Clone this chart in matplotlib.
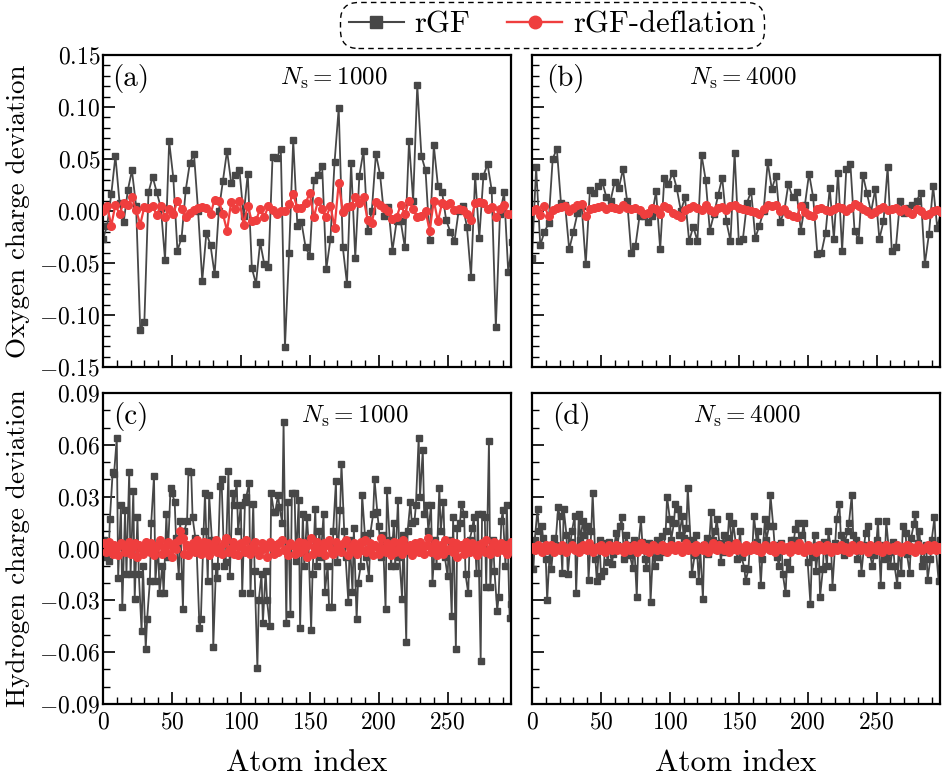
import numpy as np
import matplotlib
matplotlib.use("Agg")
import matplotlib.pyplot as plt
from matplotlib.ticker import MultipleLocator, FuncFormatter
from matplotlib.lines import Line2D

plt.rcParams["font.family"] = "serif"
plt.rcParams["font.serif"] = ["cmr10", "DejaVu Serif"]
plt.rcParams["mathtext.fontset"] = "cm"
plt.rcParams["axes.formatter.use_mathtext"] = True

# ---------------- data (values in units of 1e-3) ----------------
n_atoms = 300
oxygen_index = np.arange(0, n_atoms, 3)
hydrogen_index = np.array([i for i in range(n_atoms) if i % 3 != 0])

# (a) oxygen, Ns = 1000
o_rgf_1000 = [-27, -14, 16, 53, 8, -11, 20, 39, 5, -114, -107, 18, 33, 18, 3, -47, 67, 32, -38, -26,
              20, 46, 55, 0, -67, -21, -33, -61, 0, 29, 58, 27, 35, 39, -5, 36, -55, -70, -30, -51,
              -54, 52, 51, 60, -131, -40, 68, -14,
              -11, -35, -43, 30, 35, 43, -56, -27, 47, 99, -35, -70, 46, -45, 34, 58, -19, 0, 55, 35,
              -5, 4, -38, -10, -10, -35, 67, 10, 121, 53, 39, -28, 63, 24, 18, -9, -20, -29, 0, 5,
              -15, -63, 34, -26, 34, 45, 20, -112, -3, 18, -59, -30]
o_defl_1000 = [0, 5, -14, 6, -3, 8, 6, 13, 1, -13, 4, 3, 5, -4, 5, -6, 2, -3, 10, 2,
               -6, -2, 1, 3, 4, 3, -3, 11, 10, -3, -19, 9, 2, 10, -13, 5, -10, -9, 2, -6,
               5, 1, -3, 0, 0, 7, 16, 3,
               3, 8, 17, -6, 10, 2, -6, 5, -16, 27, -1, 4, 5, 13, 8, 13, -9, -12, 9, 6,
               3, 0, -8, -6, 6, -3, 10, 2, -6, -5, 0, -19, 10, -10, 8, 6, 8, 1, 2, 1,
               -3, -9, 8, 9, 8, 2, 4, -6, 2, 6, -3, -3]

# (b) oxygen, Ns = 4000
o_rgf_4000 = [-45, 42, -33, -20, -12, 50, 60, 8, 6, -37, -20, -2, 5, -51, 20, 17, 24, 28, 13, 10,
              28, 22, 40, 10, -40, -34, -5, -5, -11, -5, 19, -37, 32, 26, 37, 22, 0, 13, -29, -15,
              -29, 54, 30, -19, -3, 15, 32, -10, -29,
              56, -29, -27, 8, 19, -26, -14, 0, 47, 21, 34, -11, 0, 26, 13, 18, -19, 6, 36, 13,
              -41, -40, -21, 22, -27, 37, -38, 40, 45, -19, -28, 35, 17, -1, 21, -27, -10, 42, -38, -35,
              10, -2, 3, 6, 10, 17, -51, -22, 24, -16, 0]
o_defl_4000 = [0, 2, -4, 5, -5, 1, 3, 4, 5, 0, 3, 6, 7, -5, 2, 3, 4, 5, 2, 4,
               3, 2, 6, 3, 2, 3, 1, -3, -2, 3, 2, -3, 5, 3, -2, -4, -6, 1, 3, 5,
               3, 1, 6, 1, -1, 3, 4, 1, 5, 6,
               3, 2, 1, 0, -1, -3, 2, 6, 5, 6, 0, 2, -3, -5, -6, 5, -1, -4, -5, 2,
               3, 1, 0, 2, 4, 3, 0, 3, 7, 5, 2, 0, -3, -1, 2, 4, 1, 2, 3, 0,
               2, -1, -3, 2, 0, -4, -3, 0, 1, -1]

# (c) hydrogen, Ns = 1000
h_rgf_1000 = [5, -5, -7, 17, 44, 43, 64, -17, 25, -34, 22, -15, 44, -15, 33, -29, 18, -15, -48, -10,
              -58, -41, -19, 15, 42, -19, 2, -26, -10, -26, 20, -5, 35, 32, 27, 6, -16, 16, -35, 10,
              16, 45, 44, 18, 6, -2, -46, -41, 10, 32, -19, 31, 5, -57, -10, -17, 36, 40, -10, -8,
              45, -16, 32, 25, 38, 10, 25, -26, 27, 30, 38, -26, 26, -13, -69, -30, -15, -43, -13, -30,
              -45, 32, 21, 21, 31, 24, 15, 73, -43, 27, -38, 32, 32, -7, 28, -46, 20, -10, 18, 5,
              -47, -15, 23, -10, 10, -5, 20, -25, -10, -34, -34, 10, 39, -8, 22, 49, 10, -5, -31, 5,
              -25, 12, -41, -20, -10, 31, 8, -5, -17, 9, 20, 40, 21, 13, -5, 8, -35, 34, 5, -10,
              15, -10, 28, -5, -29, 8, -54, 10, 27, 15, 16, 25, 64, 30, 57, 20, 25, 10, 25, -20,
              5, -10, 35, 10, 27, -5, -16, 5, -39, 18, -58, 12, 15, 26, 20, -15, -26, 5, 12, 18,
              -14, 20, -65, 20, 18, -22, 62, -22, 5, -13, -36, -28, 16, 22, -10, 25, -40, -32, 0, 5]
h_defl_1000 = [3, -2, 4, 0, -3, 2, 1, -4, 3, 2, -2, 0, 4, -3, 1, 3, -5, 2, 0, -3,
               4, 1, -2, 3, -4, 0, 2, 5, -3, 1, -2, 4, 2, -5, 3, 0, 5, 10, 6, -3,
               2, -4, 0, 3, -2, 5, 1, -3, 4, -1, 3, -4, 2, 0, 5, -2, 1, -3, 3, 6,
               -2, 0, 4, -3, 2, -4, 3, 1, -2, 5, 0, -3, 2, 4, -1, -4, 3, 0, 2, -5,
               4, 1, -3, 2, -2, 3, 5, -1, 0, -4, 3, 2, -3, 1, 4, -2, 0, 3, -5, 2,
               6, -3, 1, 4, -2, 0, 3, -4, 2, 5, -1, -3, 4, 0, 2, -2, 3, 5, -4, 1,
               0, 3, -3, 2, 4, -1, 5, -2, 0, 3, -4, 2, 1, -3, 6, 0, -2, 3, 1, -4,
               4, -2, 0, 3, -3, 5, 1, -1, 2, -4, 3, 0, -2, 4, 1, -3, 2, 6, -2, 0,
               3, -4, 1, 2, -3, 5, -1, 0, 4, -2, 3, -5, 1, 2, -3, 4, 0, -2, 3, 1,
               -4, 2, 0, 3, -2, 5, -1, -3, 2, 4, -2, 0, 3, -1, 2, -3, 1, 4, 0, -2]

# (d) hydrogen, Ns = 4000
h_rgf_4000 = [-12, 5, 23, 10, 13, 6, -6, -30, 0, -12, 6, 2, 24, 19, -14, 23, 8, -15, 4, 10,
              19, -26, 20, 5, 16, 8, 13, -18, 10, 32, -6, -19, 5, -16, -13, 3, -8, 4, -9, -3,
              9, 2, 13, 18, -6, 8, 2, -4, -11, 5, -28, 0, 17, 4, -6, -11, 3, -31, 2, -10,
              5, -5, 7, -2, 10, 30, 17, 5, 15, 26, 23, 8, 19, 6, 12, 35, 5, -15, -4, 8,
              -19, 0, -29, 2, 6, -3, 21, 5, 10, 17, 3, -8, 8, -2, 6, 19, 3, 15, 2, -6,
              10, -5, -11, -19, -12, 1, 1, 19, 4, 10, -21, -6, 17, 5, 13, 31, 13, 2, -5, -10,
              3, -15, -26, -8, -12, 5, 5, 11, 15, 2, 8, 15, -1, -8, -32, -5, 8, -13, 2, -28,
              -12, 4, -10, 10, 0, -22, 3, 17, 26, 8, -4, 4, 10, 15, 31, 8, 5, -6, 0, -14,
              2, 9, 13, -3, -10, -4, 5, 16, -21, 2, -6, 16, -2, -10, 4, -10, -21, 0, -14, 13,
              9, -3, -14, 6, 14, 20, 3, 10, -10, -6, 2, -18, -6, 5, 18, 0, -19, 5, -8, 3]
h_defl_4000 = [1, -1, 2, 0, -2, 1, 2, -1, 0, 2, -2, 1, 0, -1, 2, 1, -2, 0, 1, 2,
               -1, 0, -2, 1, 2, 0, -1, 3, 1, -2, 0, 1, -1, 2, 0, -2, 1, 2, -1, 0,
               2, -1, 1, 0, -2, 2, 1, -1, 0, 2, -2, 1, 3, 0, -1, 1, -2, 0, 2, 1,
               -1, 0, 2, -1, 1, -2, 0, 2, 1, -1, 2, 0, -2, 1, 3, -1, 0, 1, -2, 2,
               0, 1, -1, 2, 0, -2, 1, 3, 0, -1, 2, 1, -1, 0, 2, -2, 1, 0, 3, -1,
               1, 0, -2, 2, 1, -1, 0, 2, -1, 1, -2, 0, 2, 1, 0, -1, 2, -2, 1, 0,
               2, -1, 0, 1, -2, 2, 0, 1, -1, 3, 0, -2, 1, 2, -1, 0, 1, -2, 2, 0,
               1, -1, 2, 0, -2, 1, 1, -1, 0, 2, -1, 1, 0, -2, 2, 1, -1, 0, 2, -1,
               1, 0, -2, 2, 0, 1, -1, 2, 0, -2, 1, 2, -1, 0, 1, -1, 2, 0, -2, 1,
               0, 2, -1, 1, 0, -2, 2, 1, -1, 0, 1, 2, -1, 0, 2, -1, 1, 0, -1, 1]

panel_labels = ["(a)", "(b)", "(c)", "(d)"]
ns_labels = [r"$N_\mathrm{s}=1000$", r"$N_\mathrm{s}=4000$",
             r"$N_\mathrm{s}=1000$", r"$N_\mathrm{s}=4000$"]
series_names = ["rGF", "rGF-deflation"]

# ---------------- style ----------------
gray = "#474747"
red = "#EF3E3E"
W, H = 945, 782
fig = plt.figure(figsize=(W / 100, H / 100), dpi=100)

def frac_axes(l, r, t, b):
    return fig.add_axes([l / W, 1 - b / H, (r - l) / W, (b - t) / H])

ax_a = frac_axes(103, 511, 55, 367)
ax_b = frac_axes(532, 940, 55, 367)
ax_c = frac_axes(103, 511, 393, 704)
ax_d = frac_axes(532, 940, 393, 704)
axes = [ax_a, ax_b, ax_c, ax_d]

data = [
    (oxygen_index, o_rgf_1000, o_defl_1000),
    (oxygen_index, o_rgf_4000, o_defl_4000),
    (hydrogen_index, h_rgf_1000, h_defl_1000),
    (hydrogen_index, h_rgf_4000, h_defl_4000),
]

fmt_y = FuncFormatter(lambda v, p: "$%.2f$" % (0.0 if abs(v) < 1e-9 else v))
fmt_x = FuncFormatter(lambda v, p: "$%d$" % round(v))

ns_x = [0.435, 0.385, 0.485, 0.395]
lab_x = [0.022, 0.035, 0.025, 0.05]

for i, (ax, (xi, g, r)) in enumerate(zip(axes, data)):
    ax.plot(xi, np.array(g) * 1e-3, color=gray, lw=1.3, marker="s", ms=4.8,
            zorder=2, clip_on=True)
    ax.plot(xi, np.array(r) * 1e-3, color=red, lw=1.6, marker="o", ms=5.5,
            zorder=3, clip_on=True)
    ax.set_xlim(0, 296)
    if i < 2:
        ax.set_ylim(-0.15, 0.15)
        ax.yaxis.set_major_locator(MultipleLocator(0.05))
    else:
        ax.set_ylim(-0.09, 0.09)
        ax.yaxis.set_major_locator(MultipleLocator(0.03))
    ax.yaxis.set_minor_locator(MultipleLocator(0.01))
    ax.xaxis.set_major_locator(MultipleLocator(50))
    ax.xaxis.set_minor_locator(MultipleLocator(10))
    ax.yaxis.set_major_formatter(fmt_y)
    ax.xaxis.set_major_formatter(fmt_x)
    ax.tick_params(which="both", direction="in", top=False, right=False, labelsize=17)
    ax.tick_params(which="major", length=8.5, width=1.2)
    ax.tick_params(which="minor", length=5, width=1.0)
    ax.tick_params(axis="x", pad=5)
    ax.tick_params(axis="y", pad=2)
    for s in ax.spines.values():
        s.set_linewidth(1.6)
    if i % 2 == 1:
        ax.tick_params(labelleft=False)
    if i < 2:
        ax.tick_params(labelbottom=False)
    ax.text(lab_x[i], 0.925, panel_labels[i], transform=ax.transAxes,
            fontsize=21, ha="left", va="center")
    ax.text(ns_x[i], 0.925, ns_labels[i], transform=ax.transAxes,
            fontsize=18, ha="left", va="center")

ax_a.set_ylabel("Oxygen charge deviation", fontsize=19.5)
ax_c.set_ylabel("Hydrogen charge deviation", fontsize=19.5)
ax_a.yaxis.set_label_coords(-0.178, 0.5)
ax_c.yaxis.set_label_coords(-0.178, 0.5)
for ax in (ax_c, ax_d):
    ax.set_xlabel("Atom index", fontsize=22.5)
    ax.xaxis.set_label_coords(0.5, -0.145)

handles = [Line2D([], [], color=gray, lw=1.5, marker="s", ms=8),
           Line2D([], [], color=red, lw=1.7, marker="o", ms=9)]
leg = fig.legend(handles, series_names, loc="center", bbox_to_anchor=(552 / W, 1 - 25 / H),
                 ncol=2, fontsize=22, frameon=True, fancybox=True, framealpha=1,
                 edgecolor="black", handlelength=1.8, columnspacing=1.2,
                 handletextpad=0.35, borderpad=0.3, borderaxespad=0)
fr = leg.get_frame()
fr.set_linestyle((0, (4, 3)))
fr.set_linewidth(1.0)
fr.set_boxstyle("round", pad=0, rounding_size=0.6)

fig.savefig("out.png", dpi=100)
